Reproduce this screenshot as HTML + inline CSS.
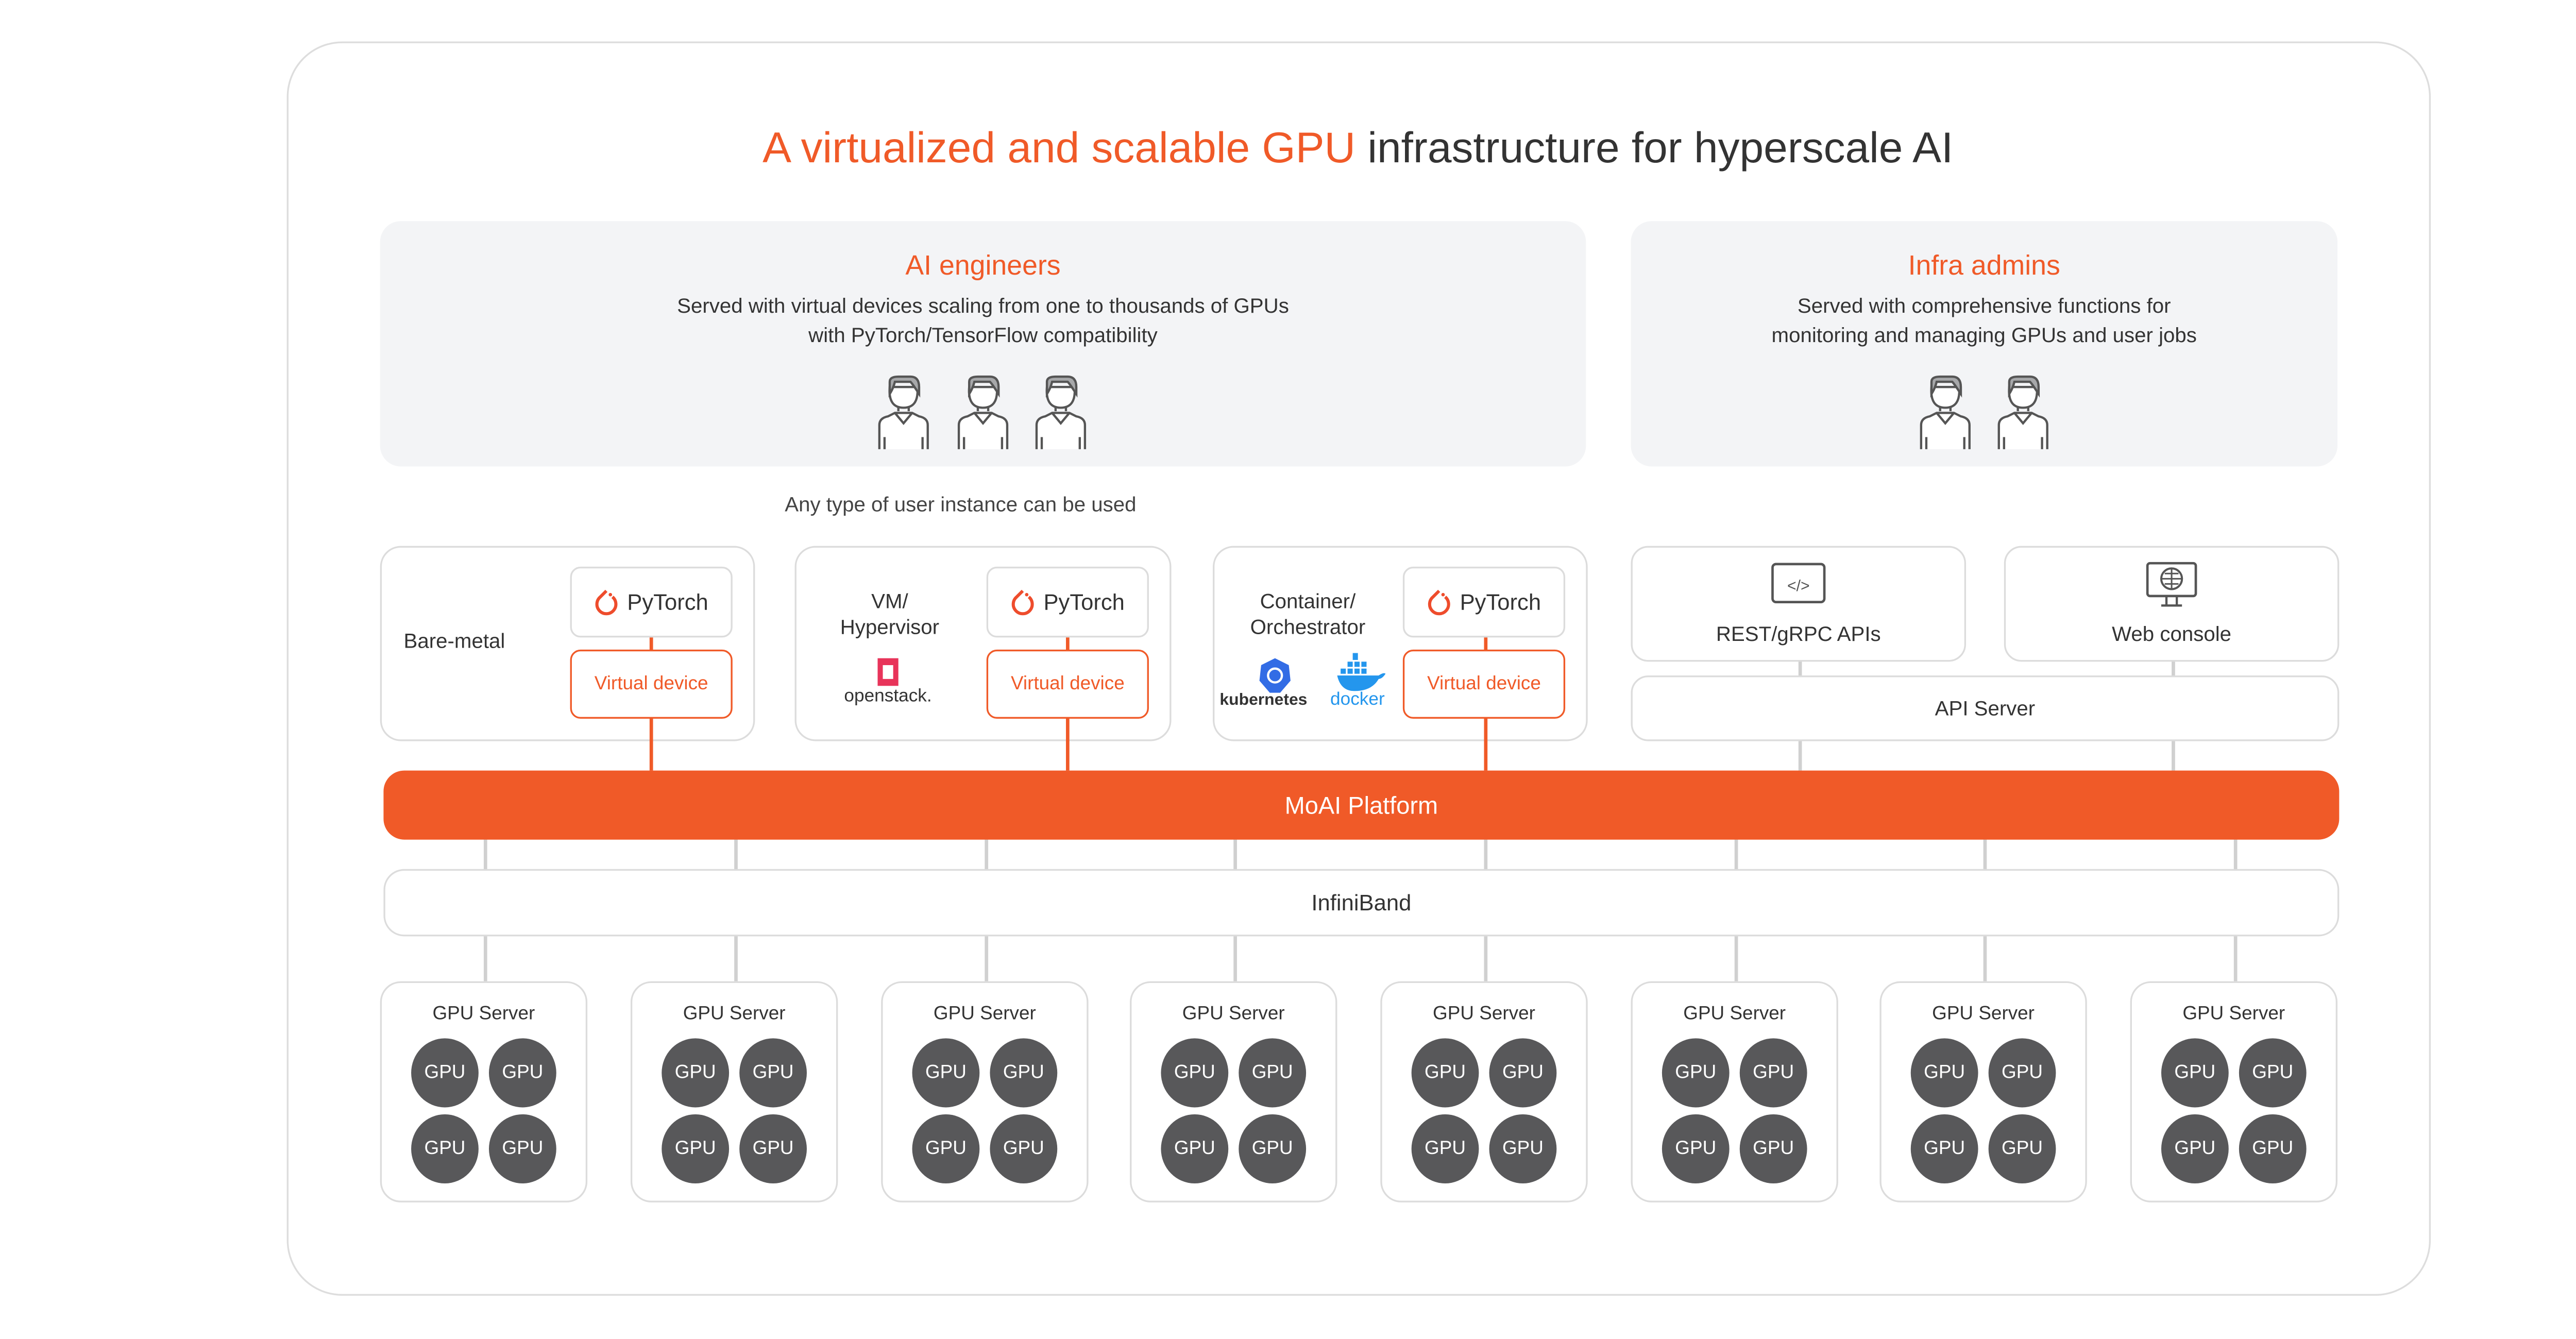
<!DOCTYPE html>
<html><head><meta charset="utf-8"><style>
html,body{margin:0;padding:0;background:#fff;width:5258px;height:2599px;overflow:hidden}
#s{position:absolute;left:0;top:0;width:1568px;height:775px;transform:scale(3.3533);transform-origin:0 0;font-family:"Liberation Sans",sans-serif;color:#333}
.a{position:absolute;box-sizing:border-box}
.b{border:1px solid #dcdcdc;border-radius:12px;background:#fff}
.c{display:flex;align-items:center;justify-content:center;text-align:center}
.vl{position:absolute;width:1.5px;background:#d0d0d0}
.ol{position:absolute;width:1.5px;background:#f05a28}
.gs .t{position:absolute;left:0;right:0;top:12px;text-align:center;font-size:11px;color:#333}
.g{position:absolute;width:39px;height:40px;border-radius:50%;background:#58585a;color:#fff;font-size:11px;display:flex;align-items:center;justify-content:center}
.pt{width:14px;height:18px;margin-right:5px}
</style></head><body><div id="s">
<div class="a" style="left:166px;top:24px;width:1241px;height:726px;border:1.5px solid #ddd;border-radius:32px"></div>
<div class="a" style="left:0;width:1572px;top:72px;text-align:center;font-size:25px;color:#333"><span style="color:#f05a28">A virtualized and scalable GPU</span> infrastructure for hyperscale AI</div>

<div class="a" style="left:220px;top:128px;width:698px;height:142px;background:#f3f4f6;border-radius:12px;text-align:center">
<div style="margin-top:18px;font-size:16px;color:#f05a28">AI engineers</div>
<div style="margin-top:5px;font-size:12px;line-height:17px;color:#333">Served with virtual devices scaling from one to thousands of GPUs<br>with PyTorch/TensorFlow compatibility</div></div>
<div class="a" style="left:944px;top:128px;width:409px;height:142px;background:#f3f4f6;border-radius:12px;text-align:center">
<div style="margin-top:18px;font-size:16px;color:#f05a28">Infra admins</div>
<div style="margin-top:5px;font-size:12px;line-height:17px;color:#333">Served with comprehensive functions for<br>monitoring and managing GPUs and user jobs</div></div>

<svg class="a" style="left:0;top:0" width="1568" height="775">
<defs><g id="p" fill="#fff" stroke="#555" stroke-width="1.3">
<path d="M-14 38 V24 Q-14 20 -9 19 L-5 17 L5 17 L9 19 Q14 20 14 24 V38"/>
<path d="M-5 17 L0 23 L5 17" fill="none"/><path d="M-3 12 V16 M3 12 V16"/>
<path d="M-8 2 Q-9 14 0 14 Q9 14 8 2 Z"/>
<path d="M-8 6 V-1 Q-8 -4 -3 -4 L4 -4 Q9 -4 9 2 V6 L7 3 Q5 0 4 -1 L-5 -1 Q-6 3 -8 6Z" fill="#a7a8aa"/>
<path d="M-11 31 V38 M11 31 V38" fill="none"/></g>
<g id="pt"><path d="M7 2 L3.5 5.5 A5.5 5.5 0 1 0 10.5 5.5" fill="none" stroke="#ee4c2c" stroke-width="1.8"/><circle cx="9.3" cy="4.2" r="1" fill="#ee4c2c"/></g></defs>
<use href="#p" x="523" y="222"/><use href="#p" x="569" y="222"/><use href="#p" x="614" y="222"/>
<use href="#p" x="1126" y="222"/><use href="#p" x="1171" y="222"/>
</svg>

<div class="a" style="left:340px;width:432px;top:285px;text-align:center;font-size:12px;color:#444">Any type of user instance can be used</div>

<div class="a b" style="left:220px;top:316px;width:217px;height:113px"></div>
<div class="a b" style="left:460px;top:316px;width:218px;height:113px"></div>
<div class="a b" style="left:702px;top:316px;width:217px;height:113px"></div>
<div class="a" style="left:228px;top:364px;width:70px;text-align:center;font-size:12px">Bare-metal</div>
<div class="a" style="left:470px;top:341px;width:90px;text-align:center;font-size:12px;line-height:15px">VM/<br>Hypervisor</div>
<div class="a" style="left:707px;top:341px;width:100px;text-align:center;font-size:12px;line-height:15px">Container/<br>Orchestrator</div>
<div class="a" style="left:508px;top:381px;width:12px;height:16px;background:#e8345a"></div>
<div class="a" style="left:511px;top:385px;width:6px;height:8px;background:#fff"></div>
<div class="a" style="left:484px;top:397px;width:60px;text-align:center;font-size:10.5px;color:#333">openstack.</div>
<svg class="a" style="left:728px;top:380px" width="20" height="22"><polygon points="10,1 18,5 19,14 13,21 7,21 1,14 2,5" fill="#326ce5"/><circle cx="10" cy="11" r="4" fill="none" stroke="#fff" stroke-width="1.3"/></svg>
<svg class="a" style="left:774px;top:378px" width="30" height="22"><g fill="#2496ed"><rect x="9" y="0" width="3" height="4"/><rect x="6" y="5" width="3" height="3"/><rect x="10" y="5" width="3" height="3"/><rect x="14" y="5" width="3" height="3"/><rect x="2" y="9" width="3" height="3"/><rect x="6" y="9" width="3" height="3"/><rect x="10" y="9" width="3" height="3"/><rect x="14" y="9" width="3" height="3"/><path d="M0 13 H24 Q27 11 28 12 Q26 15 24 15 Q20 22 10 22 Q2 22 0 13Z"/></g></svg>
<div class="a" style="left:706px;top:400px;width:62px;font-size:9.5px;font-weight:bold;color:#333">kubernetes</div>
<div class="a" style="left:770px;top:399px;width:40px;font-size:10.5px;color:#2496ed">docker</div>

<div class="ol" style="left:376px;top:368px;height:78px"></div>
<div class="ol" style="left:617px;top:368px;height:78px"></div>
<div class="ol" style="left:859px;top:368px;height:78px"></div>
<div class="a b c" style="left:330px;top:328px;width:94px;height:41px;border-radius:6px;font-size:13px"><svg class="pt" viewBox="0 0 14 18"><use href="#pt"/></svg>PyTorch</div>
<div class="a b c" style="left:571px;top:328px;width:94px;height:41px;border-radius:6px;font-size:13px"><svg class="pt" viewBox="0 0 14 18"><use href="#pt"/></svg>PyTorch</div>
<div class="a b c" style="left:812px;top:328px;width:94px;height:41px;border-radius:6px;font-size:13px"><svg class="pt" viewBox="0 0 14 18"><use href="#pt"/></svg>PyTorch</div>
<div class="a c" style="left:330px;top:376px;width:94px;height:40px;border:1px solid #f05a28;border-radius:6px;background:#fff;font-size:11px;color:#f05a28">Virtual device</div>
<div class="a c" style="left:571px;top:376px;width:94px;height:40px;border:1px solid #f05a28;border-radius:6px;background:#fff;font-size:11px;color:#f05a28">Virtual device</div>
<div class="a c" style="left:812px;top:376px;width:94px;height:40px;border:1px solid #f05a28;border-radius:6px;background:#fff;font-size:11px;color:#f05a28">Virtual device</div>

<div class="vl" style="left:1041px;top:382px;height:64px"></div>
<div class="vl" style="left:1257px;top:382px;height:64px"></div>
<div class="a b" style="left:944px;top:316px;width:194px;height:67px;border-radius:10px"></div>
<div class="a b" style="left:1160px;top:316px;width:194px;height:67px;border-radius:10px"></div>
<div class="a" style="left:944px;top:360px;width:194px;text-align:center;font-size:12px">REST/gRPC APIs</div>
<div class="a" style="left:1160px;top:360px;width:194px;text-align:center;font-size:12px">Web console</div>
<svg class="a" style="left:1024px;top:325px" width="34" height="26"><rect x="2" y="1.5" width="30" height="22" rx="2" fill="none" stroke="#555" stroke-width="1.4"/><text x="17" y="17" font-size="9" text-anchor="middle" fill="#555" font-family="Liberation Sans">&lt;/&gt;</text></svg>
<svg class="a" style="left:1242px;top:325px" width="30" height="28"><rect x="1" y="1" width="28" height="19" rx="1.5" fill="none" stroke="#555" stroke-width="1.4"/><circle cx="15" cy="10" r="6" fill="none" stroke="#555" stroke-width="1.2"/><path d="M9 10H21M15 4V16M11 7H19M11 13H19" stroke="#555" stroke-width="0.9"/><path d="M12 20V25M18 20V25M9 25.5H21" stroke="#555" stroke-width="1.3"/></svg>
<div class="a b c" style="left:944px;top:391px;width:410px;height:38px;border-radius:10px;font-size:12px">API Server</div>

<div class="vl" style="left:280px;top:484px;height:84px"></div>
<div class="vl" style="left:425px;top:484px;height:84px"></div>
<div class="vl" style="left:570px;top:484px;height:84px"></div>
<div class="vl" style="left:714px;top:484px;height:84px"></div>
<div class="vl" style="left:859px;top:484px;height:84px"></div>
<div class="vl" style="left:1004px;top:484px;height:84px"></div>
<div class="vl" style="left:1148px;top:484px;height:84px"></div>
<div class="vl" style="left:1293px;top:484px;height:84px"></div>

<div class="a c" style="left:222px;top:446px;width:1132px;height:40px;background:#f05a28;border-radius:12px;color:#fff;font-size:14px">MoAI Platform</div>
<div class="a b c" style="left:222px;top:503px;width:1132px;height:39px;border-radius:12px;font-size:13px">InfiniBand</div>

<div class="a b gs" style="left:220px;top:568px;width:120px;height:128px"><div class="t">GPU Server</div><div class="g" style="left:17px;top:32px">GPU</div><div class="g" style="left:62px;top:32px">GPU</div><div class="g" style="left:17px;top:76px">GPU</div><div class="g" style="left:62px;top:76px">GPU</div></div>
<div class="a b gs" style="left:365px;top:568px;width:120px;height:128px"><div class="t">GPU Server</div><div class="g" style="left:17px;top:32px">GPU</div><div class="g" style="left:62px;top:32px">GPU</div><div class="g" style="left:17px;top:76px">GPU</div><div class="g" style="left:62px;top:76px">GPU</div></div>
<div class="a b gs" style="left:510px;top:568px;width:120px;height:128px"><div class="t">GPU Server</div><div class="g" style="left:17px;top:32px">GPU</div><div class="g" style="left:62px;top:32px">GPU</div><div class="g" style="left:17px;top:76px">GPU</div><div class="g" style="left:62px;top:76px">GPU</div></div>
<div class="a b gs" style="left:654px;top:568px;width:120px;height:128px"><div class="t">GPU Server</div><div class="g" style="left:17px;top:32px">GPU</div><div class="g" style="left:62px;top:32px">GPU</div><div class="g" style="left:17px;top:76px">GPU</div><div class="g" style="left:62px;top:76px">GPU</div></div>
<div class="a b gs" style="left:799px;top:568px;width:120px;height:128px"><div class="t">GPU Server</div><div class="g" style="left:17px;top:32px">GPU</div><div class="g" style="left:62px;top:32px">GPU</div><div class="g" style="left:17px;top:76px">GPU</div><div class="g" style="left:62px;top:76px">GPU</div></div>
<div class="a b gs" style="left:944px;top:568px;width:120px;height:128px"><div class="t">GPU Server</div><div class="g" style="left:17px;top:32px">GPU</div><div class="g" style="left:62px;top:32px">GPU</div><div class="g" style="left:17px;top:76px">GPU</div><div class="g" style="left:62px;top:76px">GPU</div></div>
<div class="a b gs" style="left:1088px;top:568px;width:120px;height:128px"><div class="t">GPU Server</div><div class="g" style="left:17px;top:32px">GPU</div><div class="g" style="left:62px;top:32px">GPU</div><div class="g" style="left:17px;top:76px">GPU</div><div class="g" style="left:62px;top:76px">GPU</div></div>
<div class="a b gs" style="left:1233px;top:568px;width:120px;height:128px"><div class="t">GPU Server</div><div class="g" style="left:17px;top:32px">GPU</div><div class="g" style="left:62px;top:32px">GPU</div><div class="g" style="left:17px;top:76px">GPU</div><div class="g" style="left:62px;top:76px">GPU</div></div>
</div></body></html>
